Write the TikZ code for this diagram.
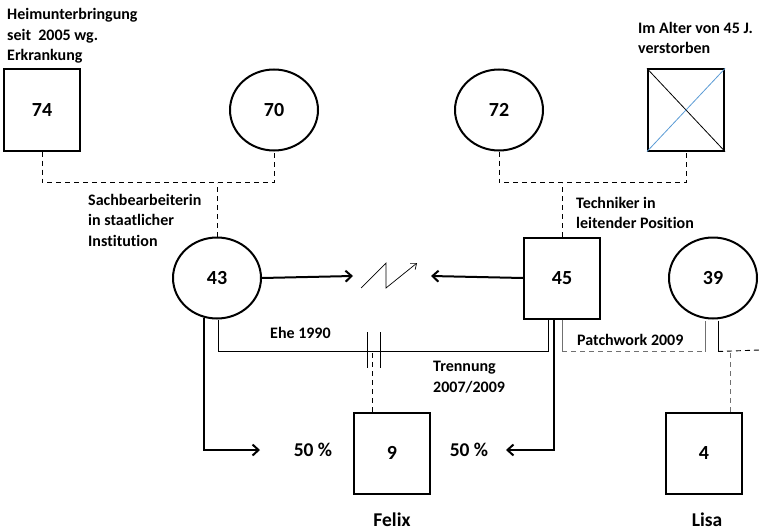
\documentclass[tikz,border=0pt]{standalone}
\usepackage{fontspec}
\setmainfont{Carlito}[Ligatures=NoCommon]
\usetikzlibrary{shapes.geometric,calc,arrows.meta}
\definecolor{crossblue}{HTML}{5B9BD5}
\definecolor{pwgray}{HTML}{707070}
\tikzset{
  male/.style={draw,line width=2pt,minimum width=76pt,minimum height=81pt,inner sep=0pt,font=\fontsize{20}{20}\selectfont\bfseries},
  female/.style={draw,ellipse,line width=2pt,minimum width=88pt,minimum height=81pt,inner sep=0pt,font=\fontsize{20}{20}\selectfont\bfseries},
  note/.style={align=left,anchor=west,inner sep=0pt,font=\fontsize{16}{20.5}\selectfont\bfseries},
  big/.style={inner sep=0pt,font=\fontsize{19.5}{19.5}\selectfont\bfseries},
  kin/.style={dashed,dash pattern=on 5pt off 4pt,line width=0.9pt},
  tie/.style={line width=0.9pt},
  flow/.style={line width=2pt,-{Straight Barb[length=6pt,width=11pt,line width=2pt]}},
}
\begin{document}
\begin{tikzpicture}[x=1pt,y=-1pt]
\useasboundingbox (0,0) rectangle (760,532);

% grandparents
\node[male]   (g74) at (42,110)  {74};
\node[female] (g70) at (274,110) {70};
\node[female] (g72) at (499,110) {72};
\node[male]   (g45) at (686,110) {};
\draw[line width=0.8pt] (g45.north west) -- (g45.south east);
\draw[line width=0.8pt,crossblue] (g45.south west) -- (g45.north east);

% parents
\node[female] (m43) at (217,278) {43};
\node[male]   (f45) at (562,278) {45};
\node[female] (m39) at (713,278) {39};

% children
\node[male] (felix) at (392,453) {9};
\node[male] (lisa)  at (704,453) {4};

% notes
\node[note] (n74) at (7,36) {Heimunterbringung\\seit\ \ 2005 wg.\\Erkrankung};
\node[note] (n45) at (638,38) {Im Alter von 45 J.\\verstorben};
\node[note] (n43) at (88,220) {Sachbearbeiterin\\in staatlicher\\Institution};
\node[note] (nf45) at (576,213) {Techniker in\\leitender Position};
\node[note] (ehe) at (270,333) {Ehe 1990};
\node[note] (tr)  at (433,377) {Trennung\\2007/2009};
\node[note] (pw)  at (577,340) {Patchwork 2009};
\node[big] (p1) at (313,450) {50 \%};
\node[big] (p2) at (469,450) {50 \%};
\node[big] (nfx) at (392,520) {Felix};
\node[big] (nls) at (707,520) {Lisa};

% descent lines of the grandparents
\draw[kin] (g74.south) -- ++(0,31) coordinate (h1) -| (g70.south);
\draw[kin] (m43.north) -- (m43.north |- h1);
\draw[kin] (g72.south) -- ++(0,31) coordinate (h2) -| (g45.south);
\draw[kin] (f45.north) -- (f45.north |- h2);

% marriage and separation
\draw[tie] ($(m43.south)+(1,0)$) -- ++(0,32) coordinate (ml) -| ($(f45.south west)!0.33!(f45.south east)$);
\draw[tie] (367,332) -- (367,368);
\draw[tie] (380,332) -- (380,368);
\draw[kin] ($(felix.north west)!0.25!(felix.north east)$) -- ++(0,-62);

% patchwork relation
\coordinate (s39l) at ($(m39.south)+(-8,1)$);
\coordinate (s39r) at ($(m39.south)+(5,1)$);
\draw[tie,pwgray] (f45.south) -- ++(0,32) coordinate (pl);
\draw[kin,pwgray] (pl) -- (s39l |- pl);
\draw[tie,pwgray] (s39l |- pl) -- (s39l);
\draw[tie] (s39r) -- (s39r |- pl) coordinate (pr);
\draw[kin] (pr) -- (760,350);
\draw[kin,pwgray] ($(lisa.north west)!0.84!(lisa.north east)$) -- ++(0,-62);

% conflict between the parents
\draw[flow] (m43.east) -- (353,276);
\draw[flow] (f45.west) -- (431,276);
\draw[line width=0.7pt,-{Straight Barb[length=5pt,width=8pt,line width=0.7pt]}]
  (361,288) -- (386,263) -- (386,288) -- (417,263);

% custody shares of Felix
\coordinate (a1) at (260,450);
\coordinate (a2) at (506,450);
\draw[flow] ($(m43.south)+(-13,-2)$) |- (a1);
\draw[flow] ($(f45.south west)!0.4!(f45.south east)$) |- (a2);
\end{tikzpicture}
\end{document}
